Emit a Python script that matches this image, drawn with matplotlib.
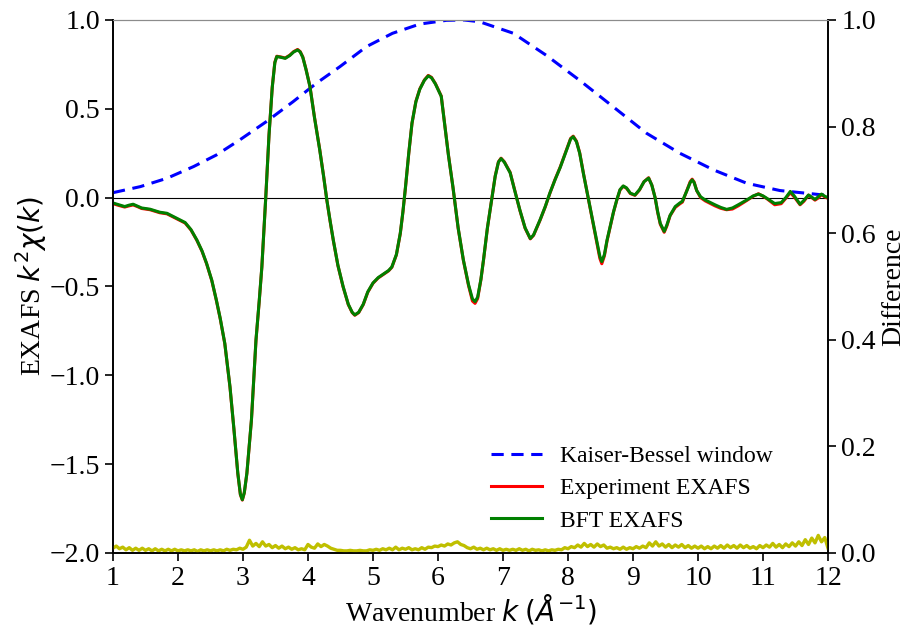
import numpy as np
import matplotlib
matplotlib.use("Agg")
import matplotlib.pyplot as plt

plt.rcParams['font.family'] = ['Liberation Serif', 'DejaVu Serif']
plt.rcParams['mathtext.fontset'] = 'dejavusans'

# ---- EXAFS data ----
k_fit = [1.00, 1.09, 1.18, 1.25, 1.31, 1.38, 1.44, 1.57, 1.72, 1.83, 1.98, 2.11, 2.20, 2.29,
         2.37, 2.44, 2.52, 2.59, 2.65, 2.72, 2.80, 2.86, 2.92, 2.96, 2.99, 3.02, 3.06, 3.13,
         3.20, 3.25, 3.29, 3.35, 3.40, 3.45, 3.49, 3.52, 3.58, 3.65, 3.72, 3.78, 3.84, 3.88,
         3.92, 3.97, 4.03, 4.10, 4.18, 4.24, 4.29, 4.34, 4.39, 4.46, 4.54, 4.62, 4.68, 4.72,
         4.78, 4.85, 4.92, 5.00, 5.08, 5.16, 5.24, 5.29, 5.36, 5.42, 5.46, 5.50, 5.55, 5.60,
         5.66, 5.72, 5.79, 5.85, 5.90, 5.96, 6.05, 6.10, 6.16, 6.23, 6.31, 6.39, 6.47, 6.53,
         6.57, 6.61, 6.66, 6.70, 6.76, 6.83, 6.88, 6.93, 6.97, 7.02, 7.11, 7.18, 7.26, 7.34,
         7.42, 7.47, 7.57, 7.65, 7.72, 7.80, 7.88, 7.98, 8.04, 8.08, 8.13, 8.18, 8.24, 8.31,
         8.38, 8.44, 8.49, 8.52, 8.56, 8.60, 8.65, 8.70, 8.75, 8.80, 8.85, 8.90, 8.96, 9.03,
         9.10, 9.17, 9.24, 9.29, 9.34, 9.38, 9.42, 9.48, 9.52, 9.57, 9.65, 9.72, 9.76, 9.83,
         9.88, 9.91, 9.94, 9.98, 10.04, 10.11, 10.26, 10.35, 10.44, 10.53, 10.62, 10.75, 10.85,
         10.93, 11.00, 11.06, 11.18, 11.28, 11.35, 11.42, 11.48, 11.57, 11.63, 11.70, 11.80,
         11.85, 11.90, 11.95, 12.00]
bft = [-0.030, -0.040, -0.050, -0.042, -0.037, -0.048, -0.058, -0.065, -0.082, -0.088, -0.116,
       -0.140, -0.180, -0.238, -0.300, -0.370, -0.465, -0.576, -0.680, -0.820, -1.065, -1.300,
       -1.550, -1.670, -1.700, -1.660, -1.550, -1.250, -0.800, -0.580, -0.390, 0.000, 0.350,
       0.620, 0.760, 0.794, 0.790, 0.784, 0.800, 0.820, 0.831, 0.820, 0.790, 0.720, 0.625,
       0.450, 0.270, 0.120, -0.013, -0.130, -0.240, -0.380, -0.500, -0.600, -0.645, -0.660,
       -0.645, -0.600, -0.530, -0.480, -0.450, -0.430, -0.410, -0.390, -0.320, -0.200, -0.080,
       0.060, 0.250, 0.420, 0.540, 0.610, 0.660, 0.685, 0.675, 0.640, 0.570, 0.420, 0.240,
       0.060, -0.170, -0.350, -0.490, -0.570, -0.585, -0.560, -0.460, -0.350, -0.170, 0.000,
       0.120, 0.200, 0.220, 0.200, 0.140, 0.040, -0.070, -0.170, -0.230, -0.210, -0.125,
       -0.050, 0.025, 0.100, 0.170, 0.270, 0.330, 0.343, 0.315, 0.250, 0.130, 0.000, -0.130,
       -0.240, -0.330, -0.360, -0.320, -0.240, -0.160, -0.080, -0.013, 0.045, 0.066, 0.055,
       0.025, 0.015, 0.045, 0.090, 0.110, 0.070, 0.000, -0.080, -0.145, -0.190, -0.155, -0.100,
       -0.050, -0.030, -0.020, 0.040, 0.085, 0.100, 0.085, 0.040, 0.005, -0.013, -0.040,
       -0.055, -0.066, -0.058, -0.040, -0.013, 0.010, 0.020, 0.010, -0.004, -0.033, -0.028,
       0.000, 0.035, 0.010, -0.037, -0.015, 0.015, -0.010, 0.005, 0.020, 0.008, 0.000]
experiment = [-0.034, -0.044, -0.053, -0.046, -0.041, -0.051, -0.061, -0.068, -0.085, -0.091,
              -0.119, -0.143, -0.182, -0.240, -0.302, -0.372, -0.467, -0.578, -0.682, -0.822,
              -1.067, -1.302, -1.552, -1.672, -1.702, -1.662, -1.552, -1.252, -0.802, -0.582,
              -0.392, 0.000, 0.352, 0.622, 0.762, 0.796, 0.792, 0.786, 0.802, 0.822, 0.834,
              0.822, 0.792, 0.722, 0.627, 0.452, 0.272, 0.122, -0.015, -0.132, -0.242, -0.382,
              -0.502, -0.602, -0.647, -0.662, -0.647, -0.602, -0.532, -0.482, -0.452, -0.432,
              -0.412, -0.392, -0.322, -0.202, -0.082, 0.058, 0.248, 0.418, 0.542, 0.612, 0.662,
              0.688, 0.677, 0.642, 0.572, 0.422, 0.242, 0.058, -0.172, -0.352, -0.495, -0.582,
              -0.595, -0.568, -0.462, -0.352, -0.172, 0.000, 0.122, 0.202, 0.222, 0.202, 0.142,
              0.042, -0.072, -0.172, -0.232, -0.212, -0.127, -0.052, 0.023, 0.102, 0.172, 0.272,
              0.333, 0.346, 0.318, 0.252, 0.132, 0.000, -0.134, -0.246, -0.342, -0.372, -0.328,
              -0.244, -0.162, -0.082, -0.015, 0.043, 0.064, 0.053, 0.023, 0.013, 0.043, 0.090,
              0.112, 0.070, 0.000, -0.084, -0.150, -0.195, -0.160, -0.102, -0.055, -0.035,
              -0.025, 0.042, 0.090, 0.104, 0.088, 0.040, 0.000, -0.018, -0.046, -0.060, -0.068,
              -0.064, -0.046, -0.016, 0.008, 0.022, 0.008, -0.006, -0.040, -0.034, -0.004,
              0.028, 0.004, -0.040, -0.020, 0.014, -0.014, -0.002, 0.018, 0.004, -0.004]

# ---- Kaiser-Bessel window ----
k_win = [1.00, 1.42, 1.83, 2.24, 2.59, 2.95, 3.36, 3.77, 4.13, 4.49, 4.90, 5.30, 5.72, 6.13,
         6.40, 6.64, 7.16, 7.67, 8.18, 8.70, 9.21, 9.72, 10.24, 10.75, 11.26, 11.77, 12.00]
window = [0.028, 0.062, 0.109, 0.175, 0.240, 0.325, 0.428, 0.540, 0.644, 0.737, 0.850,
          0.925, 0.977, 0.998, 1.000, 0.990, 0.925, 0.800, 0.660, 0.510, 0.362, 0.250,
          0.156, 0.081, 0.040, 0.021, 0.012]

# ---- Difference (right axis) ----
k_diff = list(np.round(np.arange(1.0, 12.0001, 0.05), 2))
difference = [
    0.009, 0.013, 0.008, 0.011, 0.006, 0.010, 0.005, 0.009, 0.005, 0.009,  # 1.00-1.45
    0.005, 0.008, 0.004, 0.008, 0.004, 0.007, 0.004, 0.007, 0.004, 0.007,  # 1.50-1.95
    0.004, 0.006, 0.004, 0.006, 0.004, 0.006, 0.003, 0.006, 0.004, 0.006,  # 2.00-2.45
    0.004, 0.006, 0.004, 0.006, 0.004, 0.007, 0.005, 0.007, 0.006, 0.009,  # 2.50-2.95
    0.007, 0.011, 0.024, 0.013, 0.018, 0.012, 0.021, 0.013, 0.016, 0.010,  # 3.00-3.45
    0.014, 0.009, 0.013, 0.008, 0.011, 0.007, 0.010, 0.006, 0.008, 0.006,  # 3.50-3.95
    0.016, 0.011, 0.009, 0.017, 0.012, 0.016, 0.013, 0.009, 0.007, 0.005,  # 4.00-4.45
    0.005, 0.004, 0.004, 0.005, 0.004, 0.004, 0.005, 0.004, 0.004, 0.006,  # 4.50-4.95
    0.005, 0.007, 0.005, 0.008, 0.006, 0.009, 0.006, 0.011, 0.006, 0.009,  # 5.00-5.45
    0.007, 0.010, 0.006, 0.008, 0.006, 0.010, 0.007, 0.011, 0.010, 0.013,  # 5.50-5.95
    0.012, 0.015, 0.013, 0.017, 0.015, 0.019, 0.021, 0.016, 0.014, 0.010,  # 6.00-6.45
    0.008, 0.011, 0.007, 0.009, 0.006, 0.009, 0.006, 0.008, 0.005, 0.008,  # 6.50-6.95
    0.005, 0.007, 0.005, 0.007, 0.005, 0.008, 0.005, 0.007, 0.004, 0.007,  # 7.00-7.45
    0.005, 0.006, 0.004, 0.006, 0.004, 0.006, 0.005, 0.007, 0.006, 0.010,  # 7.50-7.95
    0.008, 0.012, 0.010, 0.015, 0.011, 0.018, 0.012, 0.016, 0.011, 0.017,  # 8.00-8.45
    0.012, 0.015, 0.009, 0.011, 0.008, 0.010, 0.007, 0.011, 0.007, 0.010,  # 8.50-8.95
    0.008, 0.012, 0.009, 0.013, 0.010, 0.019, 0.013, 0.021, 0.013, 0.017,  # 9.00-9.45
    0.011, 0.016, 0.010, 0.015, 0.011, 0.016, 0.010, 0.014, 0.009, 0.013,  # 9.50-9.95
    0.009, 0.013, 0.008, 0.012, 0.008, 0.013, 0.009, 0.014, 0.009, 0.015,  # 10.00-10.45
    0.010, 0.014, 0.009, 0.015, 0.010, 0.014, 0.009, 0.012, 0.008, 0.014,  # 10.50-10.95
    0.010, 0.015, 0.011, 0.018, 0.011, 0.016, 0.010, 0.017, 0.012, 0.019,  # 11.00-11.45
    0.013, 0.021, 0.014, 0.025, 0.016, 0.028, 0.019, 0.033, 0.021, 0.029,  # 11.50-11.95
    0.009]                                                                  # 12.00

# ---- Figure ----
fig = plt.figure(figsize=(9.09, 6.32), dpi=100)
ax = fig.add_axes([0.1243, 0.125, 0.7866, 0.8434])
ax2 = ax.twinx()

ax.axhline(0, color='black', lw=0.8, zorder=1)
l_win, = ax.plot(k_win, window, color='blue', ls='--', lw=2.2, dashes=(4, 2.5),
                 label='Kaiser-Bessel window', zorder=3)
l_exp, = ax.plot(k_fit, experiment, color='red', lw=2.2, label='Experiment EXAFS', zorder=4)
l_bft, = ax.plot(k_fit, bft, color='green', lw=2.2, label='BFT EXAFS', zorder=5)
ax2.plot(k_diff, difference, color='#bfbf00', lw=2.4)

ax.set_xlim(1, 12)
ax.set_ylim(-2.0, 1.0)
ax2.set_ylim(0.0, 1.0)
ax.set_xticks(range(1, 13))
ax.set_yticks([-2.0, -1.5, -1.0, -0.5, 0.0, 0.5, 1.0])
ax.set_yticklabels(['\u22122.0', '\u22121.5', '\u22121.0', '\u22120.5', '0.0', '0.5', '1.0'])
ax2.set_yticks([0.0, 0.2, 0.4, 0.6, 0.8, 1.0])

for a in (ax, ax2):
    a.tick_params(direction='out', length=6, width=1.2, labelsize=20)
    a.spines['top'].set_color('0.55')
    for s in ('left', 'right', 'bottom'):
        a.spines[s].set_linewidth(1.2)

ax.set_xlabel(r'Wavenumber $k$ $(Å^{-1})$', fontsize=20, labelpad=1)
ax.set_ylabel(r'EXAFS $k^2\chi(k)$', fontsize=20, labelpad=0)
ax2.set_ylabel('Difference', fontsize=20, labelpad=4)

ax.legend(handles=[l_win, l_exp, l_bft], loc='lower left', frameon=False, fontsize=17,
          bbox_to_anchor=(0.529, 0.04), borderpad=0, borderaxespad=0,
          handlelength=2.15, handletextpad=0.76, labelspacing=0.46)

fig.savefig('out.png', dpi=100)
